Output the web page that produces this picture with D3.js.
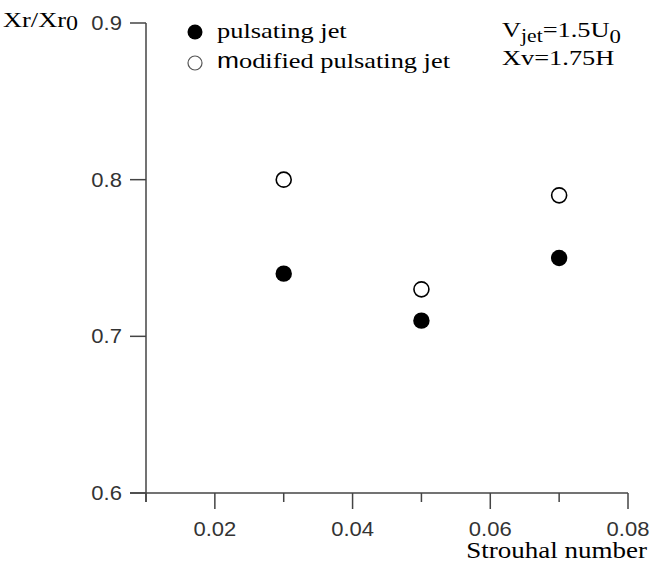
<!DOCTYPE html>
<html>
<head>
<meta charset="utf-8">
<script src="https://cdn.jsdelivr.net/npm/d3@7"></script>
<style>
body { margin: 0; background: #fff; }
.tick-label { font-family: Arial, "Liberation Sans", sans-serif; font-size: 19.5px; fill: #333; }
.serif { font-family: "Times New Roman", "Liberation Serif", serif; fill: #000; font-size: 22px; }
</style>
</head>
<body>
<svg id="chart" width="650" height="568"></svg>
<script>
// data
const strouhal = [0.03, 0.05, 0.07];
const pulsating = [0.74, 0.71, 0.75];
const modified = [0.80, 0.73, 0.79];
const xMajor = [0.02, 0.04, 0.06, 0.08];
const xMinor = [0.01, 0.03, 0.05, 0.07];
const yMajor = [0.6, 0.7, 0.8, 0.9];

const svg = d3.select("#chart");

const x = d3.scaleLinear().domain([0.01, 0.08]).range([146, 628]);
const y = d3.scaleLinear().domain([0.6, 0.9]).range([493, 23]);

const axisColor = "#444";
const majorLen = 16, minorLen = 9;
const sx = 1.2;   // the exported fonts are stretched horizontally
const tx = 1.13;

// helper: text placed at (px,py), stretched horizontally
function stretched(px, py, k, cls, anchor) {
  return svg.append("g")
    .attr("transform", `translate(${px},${py}) scale(${k},1)`)
    .append("text")
    .attr("class", cls)
    .attr("text-anchor", anchor || "start");
}

// axis lines (extend to tick ends)
svg.append("line")
  .attr("x1", x(0.01) - majorLen).attr("x2", x(0.08))
  .attr("y1", y(0.6)).attr("y2", y(0.6))
  .attr("stroke", axisColor).attr("stroke-width", 1.5);
svg.append("line")
  .attr("x1", x(0.01)).attr("x2", x(0.01))
  .attr("y1", y(0.9)).attr("y2", y(0.6) + minorLen)
  .attr("stroke", axisColor).attr("stroke-width", 1.5);

// x ticks
svg.selectAll(".xmajor").data(xMajor).join("line")
  .attr("x1", d => x(d)).attr("x2", d => x(d))
  .attr("y1", y(0.6)).attr("y2", y(0.6) + majorLen)
  .attr("stroke", axisColor).attr("stroke-width", 1.5);
svg.selectAll(".xminor").data(xMinor).join("line")
  .attr("x1", d => x(d)).attr("x2", d => x(d))
  .attr("y1", y(0.6)).attr("y2", y(0.6) + minorLen)
  .attr("stroke", axisColor).attr("stroke-width", 1.5);
xMajor.forEach(d => {
  stretched(x(d), 536, tx, "tick-label", "middle").text(d3.format(".2f")(d));
});

// y ticks
svg.selectAll(".ymajor").data(yMajor).join("line")
  .attr("x1", x(0.01) - majorLen).attr("x2", x(0.01))
  .attr("y1", d => y(d)).attr("y2", d => y(d))
  .attr("stroke", axisColor).attr("stroke-width", 1.5);
yMajor.forEach(d => {
  stretched(122, y(d) + 7, tx, "tick-label", "end").text(d3.format(".1f")(d));
});

// axis titles
stretched(647, 558, sx, "serif", "end").style("font-size", "22.5px").text("Strouhal number");

const yt = stretched(3, 27, sx, "serif");
yt.append("tspan").text("Xr/Xr");
yt.append("tspan").attr("dy", 3).style("font-size", "20px").text("0");

// markers
svg.selectAll(".open").data(strouhal).join("circle")
  .attr("cx", d => x(d)).attr("cy", (d, i) => y(modified[i]))
  .attr("r", 7.5)
  .attr("fill", "#fff").attr("stroke", "#000").attr("stroke-width", 1.6);
svg.selectAll(".filled").data(strouhal).join("circle")
  .attr("cx", d => x(d)).attr("cy", (d, i) => y(pulsating[i]))
  .attr("r", 8.2)
  .attr("fill", "#000");

// legend
svg.append("circle").attr("cx", 195).attr("cy", 32).attr("r", 7.5).attr("fill", "#000");
stretched(217, 38, sx, "serif").text("pulsating jet");
svg.append("circle").attr("cx", 195).attr("cy", 63).attr("r", 7)
  .attr("fill", "#fff").attr("stroke", "#555").attr("stroke-width", 1.2);
const lt = stretched(217, 68, sx, "serif");
lt.append("tspan").style("font-family", "Arial, 'Liberation Sans', sans-serif").text("m");
lt.append("tspan").text("odified pulsating jet");

// annotation
const a1 = stretched(502, 37, sx, "serif");
a1.append("tspan").text("V");
a1.append("tspan").attr("dy", 5).style("font-size", "18px").text("jet");
a1.append("tspan").attr("dy", -5).text("=1.5U");
a1.append("tspan").attr("dy", 6).style("font-size", "19px").text("0");

stretched(502, 65, sx, "serif").text("Xv=1.75H");
</script>
</body>
</html>
